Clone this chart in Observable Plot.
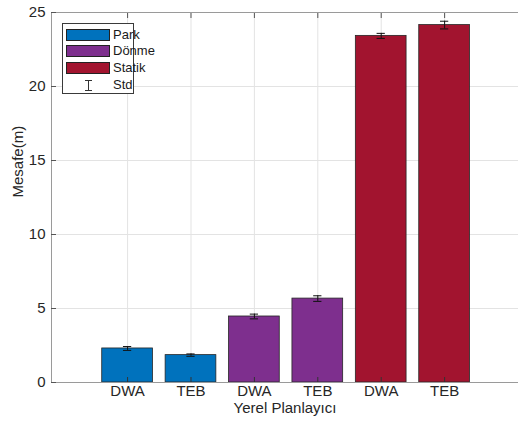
<!DOCTYPE html>
<html>
<head>
<meta charset="utf-8">
<script src="https://cdn.jsdelivr.net/npm/d3@7"></script>
<script src="https://cdn.jsdelivr.net/npm/@observablehq/plot@0.6"></script>
<style>
  html, body { margin: 0; padding: 0; background: #fff; }
  #wrap { position: relative; width: 518px; height: 421px; overflow: hidden; font-family: "Liberation Sans", Arial, sans-serif; }
  #legend { position: absolute; left: 62px; top: 23px; width: 72px; height: 71px; border: 1px solid #3a3a3a; background: #fff; box-sizing: border-box; }
  .sw { position: absolute; left: 3px; width: 44px; height: 12px; border: 1px solid #222; box-sizing: border-box; }
  .lab { position: absolute; left: 50px; height: 16px; line-height: 16px; font-size: 13px; color: #1a1a1a; white-space: nowrap; }
  .std { position: absolute; left: 3px; width: 44px; height: 13px; }
</style>
</head>
<body>
<div id="wrap"></div>
<script>
const planners = ["DWA", "TEB", "DWA", "TEB", "DWA", "TEB"];
const groups = ["Park", "Park", "Dönme", "Dönme", "Statik", "Statik"];
const means = [2.3, 1.85, 4.46, 5.67, 23.42, 24.15];
const stds = [0.13, 0.08, 0.16, 0.19, 0.17, 0.26];
const groupNames = ["Park", "Dönme", "Statik"];
const groupColors = ["#0072BD", "#7E2F8E", "#A2142F"];
const yTicks = [0, 5, 10, 15, 20, 25];
const xLabel = "Yerel Planlayıcı";
const yLabel = "Mesafe(m)";
const stdLabel = "Std";

const data = planners.map((p, i) => ({pos: i + 1, planner: p, group: groups[i], mean: means[i], std: stds[i]}));
const positions = data.map(d => d.pos);
const halfBar = 0.4;
const cap = 0.065;
const fs = 15;

const chart = Plot.plot({
  width: 518,
  height: 421,
  marginLeft: 51,
  marginRight: 0,
  marginTop: 12,
  marginBottom: 39,
  style: {fontFamily: "'Liberation Sans', Arial, sans-serif", fontSize: fs + "px", color: "#262626", background: "transparent"},
  x: {type: "linear", domain: [-0.2, 7.2], range: [51, 520.2]},
  y: {domain: [0, 25]},
  color: {domain: groupNames, range: groupColors},
  marks: [
    Plot.ruleY(yTicks.slice(1, -1), {stroke: "#e3e3e3"}),
    Plot.ruleX(positions, {stroke: "#e3e3e3"}),
    Plot.rectY(data, {x1: d => d.pos - halfBar, x2: d => d.pos + halfBar, y1: 0, y2: "mean", fill: "group", stroke: "#262626", strokeWidth: 0.8}),
    Plot.ruleX(data, {x: "pos", y1: d => d.mean - d.std, y2: d => d.mean + d.std, stroke: "#111", strokeWidth: 1}),
    Plot.ruleY(data, {x1: d => d.pos - cap, x2: d => d.pos + cap, y: d => d.mean - d.std, stroke: "#111", strokeWidth: 1}),
    Plot.ruleY(data, {x1: d => d.pos - cap, x2: d => d.pos + cap, y: d => d.mean + d.std, stroke: "#111", strokeWidth: 1}),
    Plot.ruleY([0, 25], {stroke: "#9a9a9a"}),
    Plot.ruleX([-0.2], {stroke: "#9a9a9a"}),
    Plot.axisY(yTicks, {anchor: "left", tickSize: -5, tickPadding: 11, stroke: "#555", label: null, fontSize: fs}),
    Plot.axisX(positions, {anchor: "bottom", tickSize: -5, tickPadding: 8, stroke: "#333", tickFormat: i => planners[i - 1], label: null, fontSize: fs}),
    Plot.axisX(positions, {anchor: "top", tickSize: -5, stroke: "#555", tickFormat: () => "", label: null}),
    Plot.text([xLabel], {frameAnchor: "bottom", dy: 30, fontSize: fs, fill: "#262626"}),
    Plot.text([yLabel], {frameAnchor: "left", dx: -33, rotate: -90, fontSize: fs, fill: "#262626"})
  ]
});
const wrap = document.getElementById("wrap");
wrap.appendChild(chart);

// Legend
const legend = document.createElement("div");
legend.id = "legend";
const rowCenters = [10.5, 27.2, 44.2, 60.7];
groupNames.forEach((g, i) => {
  const sw = document.createElement("div");
  sw.className = "sw";
  sw.style.top = (rowCenters[i] - 6) + "px";
  sw.style.background = groupColors[i];
  const lab = document.createElement("div");
  lab.className = "lab";
  lab.style.top = (rowCenters[i] - 8) + "px";
  lab.textContent = g;
  legend.appendChild(sw); legend.appendChild(lab);
});
const sicon = document.createElement("div");
sicon.className = "std";
sicon.style.top = (rowCenters[3] - 6.5) + "px";
sicon.innerHTML = '<svg width="44" height="13"><line x1="22.5" y1="1.5" x2="22.5" y2="11.5" stroke="#333"/><line x1="19" y1="1.5" x2="26" y2="1.5" stroke="#333"/><line x1="19" y1="11.5" x2="26" y2="11.5" stroke="#333"/></svg>';
const slab = document.createElement("div");
slab.className = "lab";
slab.style.top = (rowCenters[3] - 8) + "px";
slab.textContent = stdLabel;
legend.appendChild(sicon); legend.appendChild(slab);
wrap.appendChild(legend);
</script>
</body>
</html>
